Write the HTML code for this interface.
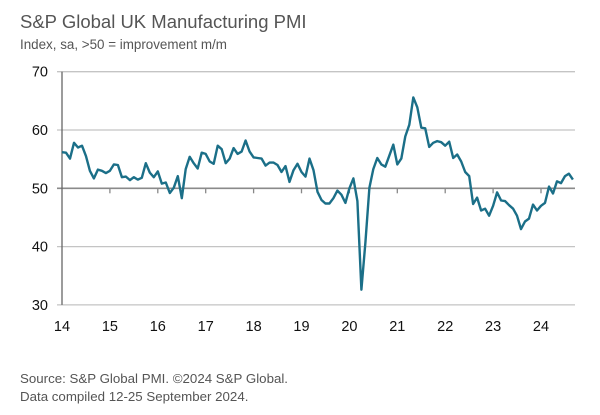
<!DOCTYPE html>
<html><head><meta charset="utf-8"><style>
body{margin:0;background:#fff;width:600px;height:410px;overflow:hidden;font-family:"Liberation Sans",sans-serif}
</style></head><body>
<svg width="600" height="410" font-family="Liberation Sans, sans-serif">
<text x="20" y="28" font-size="18.5" fill="#555">S&amp;P Global UK Manufacturing PMI</text>
<text x="20" y="49" font-size="13.4" fill="#555">Index, sa, &gt;50 = improvement m/m</text>
<g id="grid"></g><g id="yl"></g><g id="xl"></g>
<path id="line" fill="none" stroke="#1b6f88" stroke-width="2.4" stroke-linejoin="round"/>
<text x="20" y="383" font-size="13.3" fill="#555">Source: S&amp;P Global PMI. ©2024 S&amp;P Global.</text>
<text x="20" y="401" font-size="13.3" fill="#555">Data compiled 12-25 September 2024.</text>
</svg>
<script>
const yTicks=[30,40,50,60,70];
const years=["14","15","16","17","18","19","20","21","22","23","24"];
const pmi=[
56.2,56.1,55.1,57.8,57.0,57.3,55.5,53.0,51.7,53.2,53.0,52.6,
53.0,54.1,54.0,51.9,52.0,51.4,51.9,51.5,51.8,54.3,52.7,51.9,
52.9,50.8,51.0,49.2,50.1,52.1,48.3,53.3,55.4,54.3,53.4,56.1,
55.9,54.6,54.2,57.3,56.7,54.3,55.1,56.9,55.9,56.3,58.2,56.3,
55.3,55.2,55.1,53.9,54.4,54.4,54.0,52.8,53.8,51.1,53.1,54.2,
52.8,52.0,55.1,53.1,49.4,48.0,47.4,47.4,48.3,49.6,48.9,47.5,
50.0,51.7,47.8,32.6,40.7,50.1,53.3,55.2,54.1,53.7,55.6,57.5,
54.1,55.1,58.9,60.9,65.6,63.9,60.4,60.3,57.1,57.8,58.1,57.9,
57.3,58.0,55.2,55.8,54.6,52.8,52.1,47.3,48.4,46.2,46.5,45.3,
47.0,49.3,47.9,47.8,47.1,46.5,45.3,43.0,44.3,44.8,47.2,46.2,
47.0,47.5,50.3,49.1,51.2,50.9,52.1,52.5,51.5];
const X0=62,PY=47.9,XR=575;
const xm=i=>X0+i*PY/12;
const y=v=>188.3-(v-50)*5.83;
const ns="http://www.w3.org/2000/svg";
function mk(t,a,p){const e=document.createElementNS(ns,t);for(const k in a)e.setAttribute(k,a[k]);p.appendChild(e);return e;}
const g=document.getElementById('grid'),yl=document.getElementById('yl'),xl=document.getElementById('xl');
yTicks.forEach(v=>{
 const l=mk('line',{x1:57,x2:XR,y1:y(v),y2:y(v),stroke:v==50?'#8a8a8a':'#c4c4c4','stroke-width':v==50?1.6:1.3},g);
 
 
 const t=mk('text',{x:48,y:y(v)+5,'text-anchor':'end','font-size':14.5,fill:'#111'},yl);t.textContent=v;
 
 
});
const ax=mk('line',{x1:X0,x2:X0,y1:y(70),y2:y(30),stroke:'#666','stroke-width':1.3},g);


years.forEach((s,i)=>{
 const x=X0+i*PY;
 if(i>0){const tk=mk('line',{x1:x,x2:x,y1:y(50),y2:y(50)+5,stroke:'#888','stroke-width':1.3},g);
 
 }
 const t=mk('text',{x:x,y:331,'text-anchor':'middle','font-size':14.5,fill:'#111'},xl);t.textContent=s;
 
 
});
document.getElementById('line').setAttribute('d',pmi.map((v,i)=>(i?'L':'M')+xm(i).toFixed(1)+','+y(v).toFixed(1)).join(''));
</script>
</body></html>
